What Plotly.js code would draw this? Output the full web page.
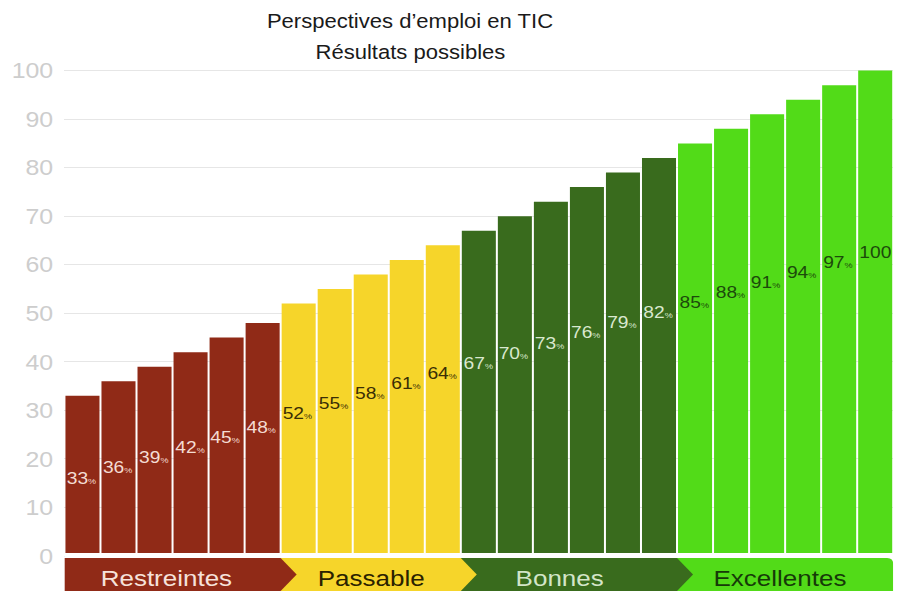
<!DOCTYPE html>
<html>
<head>
<meta charset="utf-8">
<script src="https://cdn.plot.ly/plotly-3.0.1.min.js"></script>
<style>
  html, body { margin: 0; padding: 0; background: #ffffff; overflow: hidden; }
  #chart { width: 796px; height: 591px; transform: scaleX(1.130653); transform-origin: 0 0; }
</style>
</head>
<body>
<div id="chart"></div>
<script>
// ---- data ----
const titleLine1 = 'Perspectives d’emploi en TIC';
const titleLine2 = 'Résultats possibles';
const categories = ['Restreintes', 'Passable', 'Bonnes', 'Excellentes'];
const restreintes = [33, 36, 39, 42, 45, 48];
const passable = [52, 55, 58, 61, 64];
const bonnes = [67, 70, 73, 76, 79, 82];
const excellentes = [85, 88, 91, 94, 97, 100];
const yTicks = [0, 10, 20, 30, 40, 50, 60, 70, 80, 90, 100];

// ---- styles ----
const barColors = ['#902a17', '#f6d52a', '#396b1d', '#52db18'];
const valueTextColors = ['#f4dcd3', '#3a2e05', '#d9e8cf', '#1c4a0b'];
const bandTextColors = ['#f6e2da', '#2a2200', '#d3e5c8', '#163a08'];
const FONT = 'Liberation Sans, Arial, Helvetica, sans-serif';

const groups = [restreintes, passable, bonnes, excellentes];
const traces = [];
const annotations = [];
const shapes = [];

// y geometry helpers (plot area: top 56px, bottom 591px, range [-7.2,103])
const Y0 = -7.2, Y1 = 103;
const pxPerUnit = 535 / (Y1 - Y0);
const yFromPx = (py) => (Y1 - (py - 56) / pxPerUnit);

let idx = 0;
const groupRanges = [];
groups.forEach((vals, g) => {
  const xs = vals.map((_, k) => idx + k);
  groupRanges.push([idx, idx + vals.length - 1]);
  traces.push({
    type: 'bar',
    x: xs,
    y: vals,
    marker: { color: barColors[g], line: { width: 0 } },
    hoverinfo: 'skip',
    showlegend: false
  });
  vals.forEach((v, k) => {
    const txt = v < 100 ? v + '<span style="font-size:8px">%</span>' : String(v);
    // labels rise along a diagonal with the value
    const py = 478 - 3.373 * (v - 33);
    annotations.push({
      x: xs[k] - 0.47, y: yFromPx(py), xref: 'x', yref: 'y',
      xanchor: 'left', yanchor: 'middle', showarrow: false,
      text: txt, borderpad: 0,
      font: { family: FONT, size: 17, color: valueTextColors[g] }
    });
  });
  idx += vals.length;
});

// band (chevrons) under the bars
const bandTop = yFromPx(558), bandBot = Y0, bandMid = yFromPx(574.5);
const tip = 16 / 36;
const shapeList = [];
groupRanges.forEach((r, g) => {
  const x0 = r[0] - 0.5, x1 = r[1] + 0.5;
  let path;
  if (g < groupRanges.length - 1) {
    path = `M ${x0},${bandTop} L ${x1},${bandTop} L ${x1 + tip},${bandMid} L ${x1},${bandBot} L ${x0},${bandBot} Z`;
  } else {
    const rx = 6 / 36, ry = 6 / pxPerUnit;
    path = `M ${x0},${bandTop} L ${x1 - rx},${bandTop} Q ${x1},${bandTop} ${x1},${bandTop - ry} L ${x1},${bandBot} L ${x0},${bandBot} Z`;
  }
  shapeList.push({
    type: 'path', path: path, xref: 'x', yref: 'y', layer: 'above',
    fillcolor: barColors[g], line: { width: 0 }
  });
});
// draw last group first so each arrow tip overlaps the next segment
shapeList.reverse().forEach(s => shapes.push(s));
// white separator between bars and band
shapes.push({
  type: 'rect', xref: 'x', yref: 'y', layer: 'above',
  x0: -0.55, x1: 22.55, y0: yFromPx(558), y1: yFromPx(553),
  fillcolor: '#ffffff', line: { width: 0 }
});

// band labels
const bandLabelOffsets = [-0.19, 0.01, -0.25, -0.14];
groupRanges.forEach((r, g) => {
  annotations.push({
    x: (r[0] + r[1]) / 2 + bandLabelOffsets[g], y: yFromPx(578), xref: 'x', yref: 'y',
    xanchor: 'center', yanchor: 'middle', showarrow: false,
    text: categories[g],
    font: { family: FONT, size: 23, color: bandTextColors[g] }
  });
});

// second title line
const S = 900 / 796;
annotations.push({
  x: (410 / S - 57) / 733, y: (591 - 52) / 535, xref: 'paper', yref: 'paper',
  xanchor: 'center', yanchor: 'middle', showarrow: false,
  text: titleLine2,
  font: { family: FONT, size: 19.5, color: '#1a1a1a' }
});

const layout = {
  width: 796, height: 591,
  margin: { l: 57, r: 6, t: 56, b: 0, pad: 0 },
  paper_bgcolor: '#ffffff', plot_bgcolor: '#ffffff',
  bargap: 2 / 36,
  barmode: 'group',
  title: {
    text: titleLine1, x: 410 / 900, xref: 'container', xanchor: 'center',
    y: 1 - 21 / 591, yref: 'container', yanchor: 'middle',
    font: { family: FONT, size: 19.5, color: '#1a1a1a' }
  },
  xaxis: {
    range: [-0.5, 22.5], showgrid: false, zeroline: false,
    showticklabels: false, ticks: '', showline: false, fixedrange: true
  },
  yaxis: {
    range: [Y0, Y1], tickvals: yTicks, ticktext: yTicks.map(String),
    showgrid: true, gridcolor: '#e6e6e6', gridwidth: 1,
    zeroline: false, showline: false, ticks: '',
    ticklabelstandoff: 9,
    tickfont: { family: FONT, size: 22, color: '#cdcdcd' }, fixedrange: true
  },
  shapes: shapes,
  annotations: annotations,
  showlegend: false
};

Plotly.newPlot('chart', traces, layout, { displayModeBar: false, staticPlot: true });
</script>
</body>
</html>
